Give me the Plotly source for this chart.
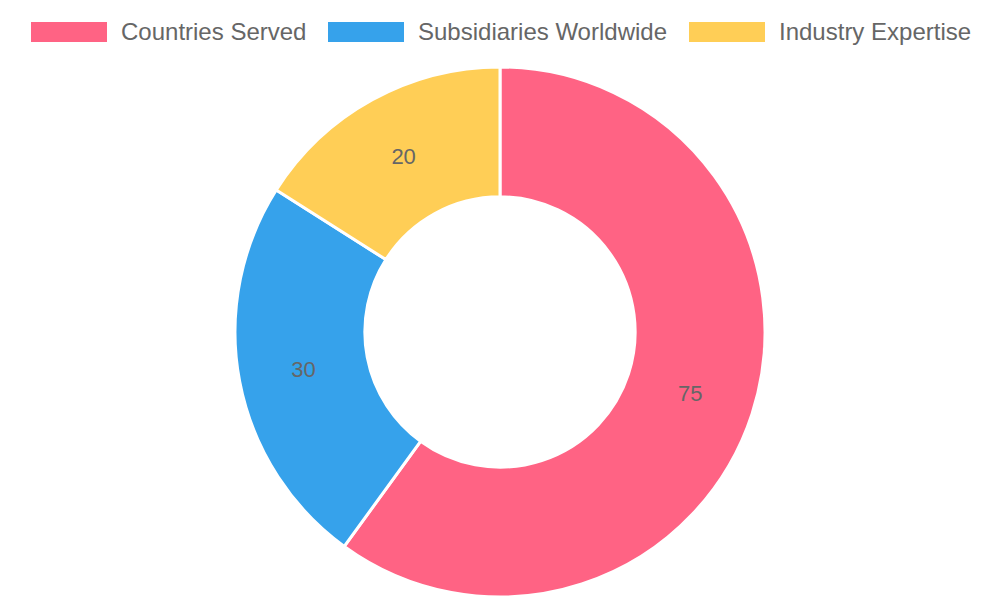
import plotly.graph_objects as go

labels = ["Countries Served", "Subsidiaries Worldwide", "Industry Expertise"]
values = [75, 30, 20]
colors = ["#FF6384", "#36A2EB", "#FFCE56"]

# legend positions (left edge of the colour box, in px)
legendX = [31, 328, 689]

W, H = 1000, 600
OFF = 8  # page body margin
T, B = 67 - OFF, 11
plotH = H - T - B
plotW = W - 2 * OFF

fig = go.Figure(go.Pie(
    labels=labels,
    values=values,
    hole=0.51,
    sort=False,
    direction="clockwise",
    rotation=0,
    marker=dict(colors=colors, line=dict(color="white", width=3)),
    textinfo="value",
    textposition="inside",
    insidetextorientation="horizontal",
    textfont=dict(family="Liberation Sans, Arial, sans-serif", size=22, color="#666666"),
    hoverinfo="label+value",
    showlegend=False,
))

shapes = []
annotations = []
for i, lab in enumerate(labels):
    x0 = legendX[i] - OFF
    shapes.append(dict(
        type="rect", xref="paper", yref="paper",
        x0=x0 / plotW, x1=(x0 + 76) / plotW,
        y0=1 + (T - (42 - OFF)) / plotH, y1=1 + (T - (22 - OFF)) / plotH,
        fillcolor=colors[i], line=dict(width=0),
    ))
    annotations.append(dict(
        text=lab, xref="paper", yref="paper",
        x=(x0 + 88) / plotW, y=1 + (T - (32 - OFF)) / plotH,
        xanchor="left", yanchor="middle", showarrow=False,
        font=dict(family="Liberation Sans, Arial, sans-serif", size=24, color="#666666"),
    ))

fig.update_layout(
    width=W, height=H,
    margin=dict(l=0, r=2 * OFF, t=T, b=B),
    paper_bgcolor="white",
    plot_bgcolor="white",
    shapes=shapes,
    annotations=annotations,
)

fig.write_html("out.html")
